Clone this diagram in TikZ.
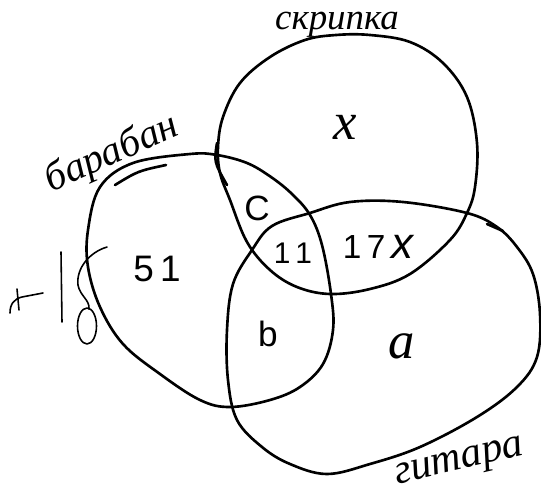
\documentclass[tikz,border=0pt]{standalone}
\usepackage{fontspec}
\setmainfont{Liberation Serif}
\newfontfamily\handsans{Liberation Sans}
\begin{document}
\begin{tikzpicture}[x=0.02cm,y=-0.02cm,
  curve/.style={line width=1.5pt, line join=round, line cap=round},
  scribble/.style={line width=0.9pt, line cap=round, line join=round},
  cyr/.style={inner sep=0pt, font=\itshape\fontsize{21}{21}\selectfont},
  var/.style={inner sep=0pt, font=\itshape\fontsize{30}{30}\selectfont},
  num/.style={inner sep=0pt, font=\handsans\fontsize{17}{17}\selectfont}]
\useasboundingbox (0,0) rectangle (541,494);
% skripka
\draw[curve] plot[smooth cycle, tension=0.6] coordinates {
 (336,35) (370,35) (410,42) (443,63) (467,97) (477,143) (475,187) (467,213)
 (450,240) (410,274) (370,289) (330,294) (297,287) (270,270) (247,242)
 (230,200) (220,173) (218,147) (223,117) (240,83) (270,57) (305,40)};
% baraban
\draw[curve] plot[smooth cycle, tension=0.6] coordinates {
 (190,154) (217,155) (247,163) (271,177) (292,194) (310,215) (322,245) (331,294)
 (333,330) (323,364) (300,387) (270,400) (230,407) (200,400) (160,374)
 (123,344) (100,307) (88,267) (88,230) (100,187) (133,163)};
% gitara
\draw[curve] plot[smooth cycle, tension=0.6] coordinates {
 (350,202) (403,202) (467,213) (497,227) (517,247) (533,274) (540,314)
 (537,357) (517,387) (477,417) (420,447) (370,464) (327,474) (290,464)
 (262,447) (237,420) (228,380) (227,330) (233,284) (252,250) (272,226) (310,213)};
% extra strokes
\draw[curve] (217,143) .. controls (214,162) .. (227,185);
\draw[curve] (115,185) .. controls (138,171) .. (166,165);
\draw[curve] (487,224) -- (503,231);
% left marks
\draw[scribble] (61,252) -- (62,322);
\draw[scribble] (10,313) .. controls (10,304) and (14,299) .. (22,297) -- (43,293);
\draw[scribble] (17,289) -- (19,310);
\draw[scribble] (107,247) .. controls (90,252) and (76,268) .. (78,285)
  .. controls (80,296) and (90,300) .. (89,309);
\draw[scribble] (87,326) ellipse [x radius=9.5, y radius=18];
% labels
\node[cyr] (skripka) at (337,25) {скрипка};
\node[cyr, font=\itshape\fontsize{23}{23}\selectfont, rotate=24] (baraban) at (112,154) {барабан};
\node[cyr, font=\itshape\fontsize{24}{24}\selectfont, rotate=13] (gitara) at (460,464) {гитара};
\node[var] (vx) at (345,127) {x};
\node[var] (va) at (402,346) {a};
\node[num, font=\handsans\fontsize{20}{20}\selectfont] (vc) at (257,208) {C};
\node[num] (v11) at (293,253) {1\,1};
\node[num, font=\handsans\fontsize{19}{19}\selectfont] (v17) at (378,247) {1\,7\,{\itshape\fontsize{25}{25}\selectfont x}};
\node[num, font=\handsans\fontsize{21}{21}\selectfont] (v51) at (157,269) {5\,1};
\node[num, font=\handsans\fontsize{20}{20}\selectfont] (vb) at (268,334) {b};
\end{tikzpicture}
\end{document}
